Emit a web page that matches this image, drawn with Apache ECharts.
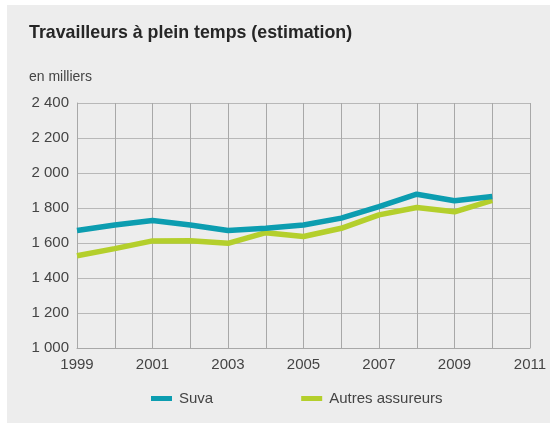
<!DOCTYPE html>
<html>
<head>
<meta charset="utf-8">
<script src="https://cdn.jsdelivr.net/npm/echarts@6/dist/echarts.min.js"></script>
<style>
html,body{margin:0;padding:0;background:#fff;}
#c{width:550px;height:424px;}
</style>
</head>
<body>
<div id="c"></div>
<script>
var years = ['1999','2000','2001','2002','2003','2004','2005','2006','2007','2008','2009','2010','2011'];
var suva = [1671,1703,1728,1703,1671,1684,1703,1742,1808,1879,1841,1866,null];
var autres = [1527,1568,1612,1613,1598,1659,1637,1684,1761,1803,1778,1843,null];
var yTicks = {min:1000, max:2400, step:200};

var chart = echarts.init(document.getElementById('c'), null, {renderer:'canvas'});
var font = "'Liberation Sans', Arial, Helvetica, sans-serif";
chart.setOption({
  backgroundColor:'#ffffff',
  textStyle:{fontFamily:font},
  animation:false,
  graphic:[
    {type:'rect', shape:{x:7,y:5,width:543,height:418}, style:{fill:'#ededed'}, z:-10},
    {type:'text', left:29, top:24, style:{text:'Travailleurs à plein temps (estimation)', fontSize:17.8, fontWeight:'bold', fill:'#262626', fontFamily:font}},
    {type:'text', left:29, top:70, style:{text:'en milliers', fontSize:14, fill:'#444', fontFamily:font}}
  ],
  grid:{left:77, right:20, top:103, bottom:76, containLabel:false},
  legend:{
    left:151, top:391, itemWidth:21, itemHeight:5, itemGap:88,
    icon:'rect', padding:0,
    textStyle:{fontSize:15, color:'#444', fontFamily:font, padding:[0,0,0,2]},
    data:['Suva','Autres assureurs']
  },
  xAxis:{
    type:'category', data:years, boundaryGap:false,
    axisLine:{lineStyle:{color:'#a8a8a8', width:1}},
    axisTick:{show:false},
    axisLabel:{interval:1, color:'#444', fontSize:15, margin:9, fontFamily:font},
    splitLine:{show:true, interval:0, lineStyle:{color:'#a8a8a8', width:1}}
  },
  yAxis:{
    type:'value', min:yTicks.min, max:yTicks.max, interval:yTicks.step,
    axisLine:{show:true, lineStyle:{color:'#a8a8a8', width:1}},
    axisTick:{show:false},
    axisLabel:{color:'#444', fontSize:15, margin:8, fontFamily:font,
      formatter:function(v){var s=String(v);return s.length>3? s.slice(0,s.length-3)+' '+s.slice(-3):s;}},
    splitLine:{show:true, lineStyle:{color:'#b8b8b8', width:1}}
  },
  series:[
    {name:'Suva', type:'line', data:suva, symbol:'none', lineStyle:{width:5.5, color:'#0c9db0'}, itemStyle:{color:'#0c9db0'}, z:3},
    {name:'Autres assureurs', type:'line', data:autres, symbol:'none', lineStyle:{width:5.5, color:'#b4cf2c'}, itemStyle:{color:'#b4cf2c'}, z:2}
  ]
});
</script>
</body>
</html>
